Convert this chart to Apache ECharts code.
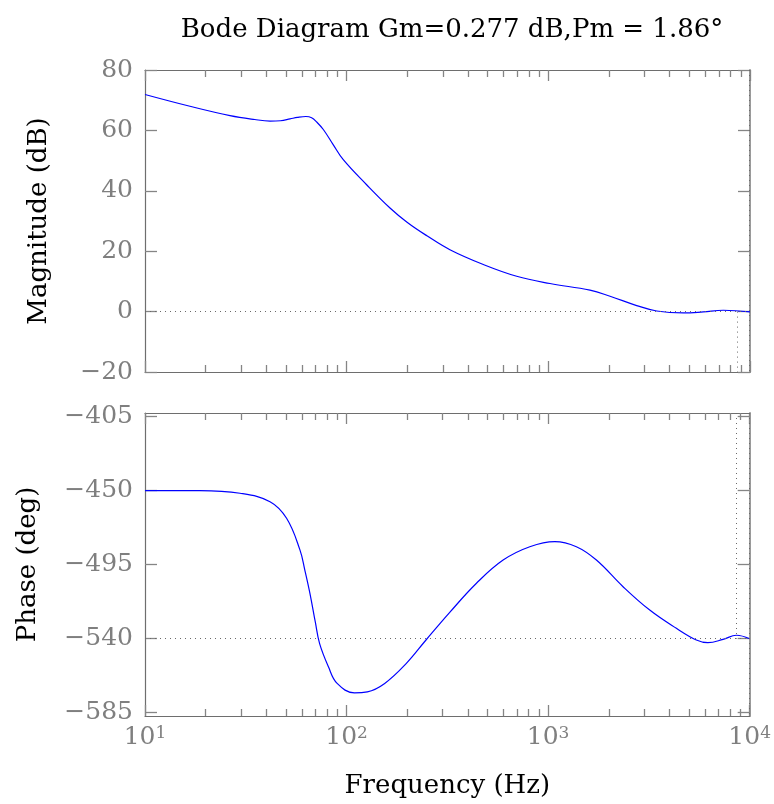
<!DOCTYPE html>
<html>
<head>
<meta charset="utf-8">
<script src="https://cdn.jsdelivr.net/npm/echarts@6/dist/echarts.min.js"></script>
<style>
  html, body { margin: 0; padding: 0; background: #fff; }
  #chart { width: 774px; height: 804px; }
</style>
</head>
<body>
<div id="chart"></div>
<script>
// magnitude (dB)
const magFreq = [10, 16.7, 26.4, 35, 41.7, 47, 52.4, 57, 62.8, 67, 71, 76.6, 85.7, 96.2, 125.6, 164, 200, 250, 325, 476, 697, 1019, 1609, 2023, 2742, 3446, 4670, 5866, 7375, 10000];
const magDb   = [71.9, 68, 64.9, 63.6, 63.1, 63.2, 63.8, 64.3, 64.6, 64.2, 62.8, 60.3, 55.3, 50.3, 42, 34.3, 29.5, 25.1, 20.5, 15.6, 11.7, 9.3, 7.1, 5.1, 2.0, 0.2, -0.45, -0.1, 0.45, -0.1];

// phase (deg)
const phaseFreq = [10, 18.7, 29.6, 41.7, 50.4, 58.7, 62, 65.8, 70, 73.5, 81.3, 89.8, 109.4, 126.8, 154.6, 198, 247.8, 325, 441, 598, 811, 1079, 1381, 1736, 2354, 3192, 4328, 5436, 6205, 7375, 8597, 10000];
const phaseDeg  = [-450, -450, -451.6, -456.7, -466.8, -486, -498, -512.4, -530, -543, -557.1, -567.2, -572.9, -572.3, -567.2, -555, -540.8, -524, -506.3, -492.2, -484.1, -481, -484.1, -492.2, -508.4, -522.6, -533.7, -540.8, -542.4, -540.4, -537.9, -540];

// tick labels
const magTicks = [-20, 0, 20, 40, 60, 80];
const phaseTicks = [-585, -540, -495, -450, -405];
const minorFreqs = [20, 30, 40, 50, 60, 70, 80, 90, 200, 300, 400, 500, 600, 700, 800, 900, 2000, 3000, 4000, 5000, 6000, 7000, 8000, 9000];

// margin markers
const pmFreq = 8600;
const edgeFreq = 9950;

const FONT = "'DejaVu Serif', 'Liberation Serif', serif";
const GRAY = "#7f7f7f";
const LINE = "#6e6e6e";
const TICK = "#858585";

// yAxis index of a hidden helper axis in the top grid that never crosses 0,
// so the top plot's x axes stay on the frame instead of jumping to 0 dB
const NO_ZERO_Y = 4;

const chart = echarts.init(document.getElementById("chart"));

const minus = (v) => String(v).replace("-", "\u2212");
const minorLog = minorFreqs.map((f) => Math.log10(f));

const grids = [
  { left: 145, top: 70, width: 605, height: 302 },
  { left: 145, top: 413, width: 605, height: 303 },
];

function logAxis (gridIndex, position, showLabel) {
  return {
    type: "log",
    logBase: 10,
    gridIndex,
    position,
    min: 10,
    max: 10000,
    axisLine: { show: true, onZeroAxisIndex: NO_ZERO_Y, lineStyle: { color: LINE, width: 1.2 } },
    axisTick: { show: true, inside: true, length: 11, lineStyle: { color: TICK, width: 1.3 } },
    axisLabel: {
      show: showLabel,
      margin: 9,
      formatter: (v) => "{b|10}{e|" + Math.round(Math.log10(v)) + "}",
      rich: {
        b: { fontSize: 25, fontFamily: FONT, color: GRAY },
        e: { fontSize: 17, fontFamily: FONT, color: GRAY, verticalAlign: "top" },
      },
    },
    splitLine: { show: false },
    minorTick: { show: false },
  };
}

// 2..9 ticks of each decade, drawn on a plain value axis over log10(f)
function minorAxis (gridIndex, position) {
  return {
    type: "value",
    gridIndex,
    position,
    min: 1,
    max: 4,
    axisLine: { show: false, onZeroAxisIndex: NO_ZERO_Y },
    axisLabel: { show: false },
    axisTick: { show: true, inside: true, length: 7, customValues: minorLog, lineStyle: { color: TICK, width: 1.3 } },
    splitLine: { show: false },
  };
}

function rightAxis (gridIndex, min, max, ticks) {
  return {
    type: "value",
    gridIndex,
    position: "right",
    min,
    max,
    axisLine: { show: true, lineStyle: { color: "#9a9a9a", width: 2 } },
    axisTick: { show: true, inside: true, length: 12, customValues: ticks, lineStyle: { color: TICK, width: 1.3 } },
    axisLabel: { show: false },
    splitLine: { show: false },
  };
}

const dotted = { color: "#6a6a6a", type: [1, 4], width: 1 };

const option = {
  animation: false,
  backgroundColor: "#fff",
  title: {
    text: "Bode Diagram Gm=0.277 dB,Pm = 1.86\u00b0",
    left: 447,
    top: 12,
    textAlign: "center",
    textStyle: { fontFamily: FONT, fontSize: 26, fontWeight: "normal", color: "#000" },
  },
  grid: grids,
  xAxis: [
    logAxis(0, "bottom", false),
    logAxis(0, "top", false),
    minorAxis(0, "bottom"),
    minorAxis(0, "top"),
    Object.assign(logAxis(1, "bottom", true), {
      name: "Frequency (Hz)",
      nameLocation: "middle",
      nameGap: 57,
      nameTextStyle: { fontFamily: FONT, fontSize: 26, color: "#000", verticalAlign: "top" },
    }),
    logAxis(1, "top", false),
    minorAxis(1, "bottom"),
    minorAxis(1, "top"),
  ],
  yAxis: [
    {
      type: "value",
      gridIndex: 0,
      min: -20,
      max: 80,
      interval: 20,
      name: "Magnitude (dB)",
      nameLocation: "middle",
      nameGap: 93,
      nameTextStyle: { fontFamily: FONT, fontSize: 26, color: "#000" },
      axisLine: { show: true, lineStyle: { color: LINE, width: 1.2 } },
      axisTick: { show: true, inside: true, length: 12, lineStyle: { color: TICK, width: 1.3 } },
      axisLabel: { margin: 12, fontFamily: FONT, fontSize: 25, color: GRAY, formatter: minus },
      splitLine: { show: false },
    },
    rightAxis(0, -20, 80, magTicks),
    {
      type: "value",
      gridIndex: 1,
      min: -587,
      max: -402.8,
      name: "Phase (deg)",
      nameLocation: "middle",
      nameGap: 104,
      nameTextStyle: { fontFamily: FONT, fontSize: 26, color: "#000" },
      axisLine: { show: true, lineStyle: { color: LINE, width: 1.2 } },
      axisTick: { show: true, inside: true, length: 12, customValues: phaseTicks, lineStyle: { color: TICK, width: 1.3 } },
      axisLabel: { margin: 12, fontFamily: FONT, fontSize: 25, color: GRAY, customValues: phaseTicks, formatter: minus },
      splitLine: { show: false },
    },
    rightAxis(1, -587, -402.8, phaseTicks),
    { type: "value", gridIndex: 0, min: 1, max: 2, show: false },
  ],
  series: [
    {
      type: "line",
      xAxisIndex: 0,
      yAxisIndex: 0,
      data: magFreq.map((f, i) => [f, magDb[i]]),
      smooth: 0.4,
      showSymbol: false,
      lineStyle: { color: "#0000ff", width: 1.2 },
      markLine: {
        silent: true,
        symbol: "none",
        label: { show: false },
        lineStyle: dotted,
        data: [
          { yAxis: 0 },
          [{ coord: [pmFreq, 0] }, { coord: [pmFreq, -20] }],
          [{ coord: [edgeFreq, 80] }, { coord: [edgeFreq, -20] }],
        ],
      },
    },
    {
      type: "line",
      xAxisIndex: 4,
      yAxisIndex: 2,
      data: phaseFreq.map((f, i) => [f, phaseDeg[i]]),
      smooth: 0.4,
      showSymbol: false,
      lineStyle: { color: "#0000ff", width: 1.2 },
      markLine: {
        silent: true,
        symbol: "none",
        label: { show: false },
        lineStyle: dotted,
        data: [
          { yAxis: -540 },
          [{ coord: [pmFreq, -402.8] }, { coord: [pmFreq, -540] }],
          [{ coord: [edgeFreq, -402.8] }, { coord: [edgeFreq, -587] }],
        ],
      },
    },
  ],
};

chart.setOption(option);
</script>
</body>
</html>
